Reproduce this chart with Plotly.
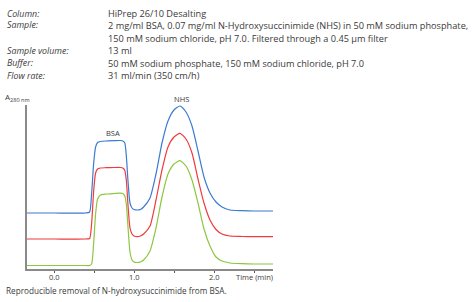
import plotly.graph_objects as go

# ---- data (time in min, absorbance in arbitrary units) ----
time_min = [-0.34, 0.0, 0.40, 0.445, 0.47, 0.495, 0.52, 0.545, 0.58, 0.65, 0.75, 0.83,
            0.86, 0.885, 0.905, 0.925, 0.95, 0.975, 1.0, 1.04, 1.08, 1.12, 1.2, 1.275,
            1.35, 1.425, 1.5, 1.575, 1.65, 1.725, 1.8, 1.875, 1.95, 2.025, 2.1, 2.2,
            2.35, 2.5, 2.74]

run_blue = [56, 56, 56, 57, 75, 105, 122, 126.5, 127.5, 128, 128.3, 128.5,
            128, 126, 112, 88, 66, 61, 59.5, 59, 59.5, 62, 71, 95,
            126, 148, 159, 163, 157, 143, 118, 92, 76, 67, 62, 59,
            58.3, 58, 58]
run_red = [30, 30, 30, 30.5, 45, 77, 96, 100, 101, 101.3, 101.5, 101.5,
           101, 98.5, 88, 64, 41, 35, 33, 32.3, 33, 35, 43, 69,
           99, 122, 132, 135.7, 130, 116, 90, 66, 49, 39.5, 35, 33,
           32.5, 32.3, 32.3]
run_green = [3.5, 3.5, 3.5, 3.5, 5, 25, 55, 70, 74, 75, 75.5, 75.8,
             75.5, 73, 64, 42, 17, 9, 7, 6.5, 7, 9, 18, 41,
             72, 95, 105, 108.3, 103, 89, 66, 40, 23, 12, 8, 6,
             5.3, 5, 5]

tick_vals = [0.0, 0.5, 1.0, 1.5, 2.0, 2.5]
tick_labels = ["0.0", "", "1.0", "", "2.0", ""]

header_labels = ["Column:", "Sample:", "", "Sample volume:", "Buffer:", "Flow rate:"]
header_values = ["HiPrep 26/10 Desalting",
                 "2 mg/ml BSA, 0.07 mg/ml N-Hydroxysuccinimide (NHS) in 50 mM sodium phosphate,",
                 "150 mM sodium chloride, pH 7.0. Filtered through a 0.45 µm filter",
                 "13 ml",
                 "50 mM sodium phosphate, 150 mM sodium chloride, pH 7.0",
                 "31 ml/min (350 cm/h)"]

# ---- figure geometry ----
W, H = 474, 302
L, R, T, B = 27, 273, 105, 269
FONT = "Open Sans"
TXT = "#3a3a3a"


def px(x):
    return (x - L) / (R - L)


def py(y):
    return (B - y) / (B - T)


def note(text, x, y, size, anchor="left", xref="paper"):
    return dict(text=text, x=x, y=y, xref=xref, yref="paper", xanchor=anchor,
                yanchor="middle", showarrow=False, align="left", borderpad=0,
                font=dict(family=FONT, size=size, color=TXT))


fig = go.Figure()
for ys, col in [(run_green, "#8dc63f"), (run_red, "#ef3b3b"), (run_blue, "#3b7bd0")]:
    fig.add_trace(go.Scatter(x=time_min, y=ys, mode="lines",
                             line=dict(color=col, width=1.2, shape="spline", smoothing=0.6),
                             hoverinfo="skip", showlegend=False))

ann = []
row_y = [13.5, 25.3, 38, 50.8, 63.3, 75.8]
for lab, val, yr in zip(header_labels, header_values, row_y):
    if lab:
        ann.append(note("<i>" + lab + "</i>", px(6), py(yr), 8.8))
    ann.append(note(val, px(107), py(yr), 9.2))

ann.append(note("A<sub>280 nm</sub>", px(4), py(97), 8))
ann.append(note("BSA", px(113), py(133), 7.5, "center"))
ann.append(note("NHS", px(181.5), py(98.5), 7.5, "center"))
for tv, tl in zip(tick_vals, tick_labels):
    if tl:
        ann.append(note(tl, tv, py(276.5), 7.5, "center", xref="x"))
ann.append(note("Time (min)", px(234.5), py(276.5), 7.5))
ann.append(note("Reproducible removal of N-hydroxysuccinimide from BSA.", px(5), py(290), 8.2))

fig.update_layout(
    width=W, height=H,
    margin=dict(l=L, r=W - R, t=T, b=H - B, pad=0),
    paper_bgcolor="white", plot_bgcolor="white",
    annotations=ann,
    xaxis=dict(range=[(L - 54) / 80, (R - 54) / 80], showgrid=False, zeroline=False,
               showline=True, linecolor="#8a8a8a", linewidth=1.5,
               tickmode="array", tickvals=tick_vals, showticklabels=False,
               ticks="outside", ticklen=2.5, tickwidth=1, tickcolor="#555"),
    yaxis=dict(range=[0, 164], showgrid=False, zeroline=False, showticklabels=False,
               showline=True, linecolor="#8a8a8a", linewidth=1.5, ticks=""),
)

fig.write_html("out.html")
